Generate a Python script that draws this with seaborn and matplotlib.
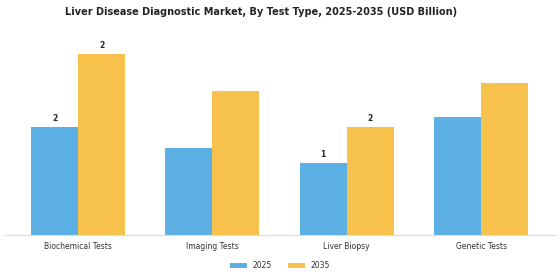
import matplotlib
matplotlib.use("Agg")
import matplotlib.pyplot as plt
import seaborn as sns
import pandas as pd

categories = ["Biochemical Tests", "Imaging Tests", "Liver Biopsy", "Genetic Tests"]
years = ["2025", "2035"]
values_2025 = [1.5, 1.2, 1.0, 1.64]
values_2035 = [2.5, 2.0, 1.5, 2.1]
labeled_categories = ["Biochemical Tests", "Liver Biopsy"]

df = pd.DataFrame({
    "Test Type": categories * 2,
    "Year": [years[0]] * len(categories) + [years[1]] * len(categories),
    "Value": values_2025 + values_2035,
})

sns.set_theme(style="white")
plt.rcParams['font.family'] = ['DejaVu Sans']

fig = plt.figure(figsize=(5.6, 2.8), dpi=100)
ax = fig.add_axes([5/560, 45/280, 550/560, 195/280])

palette = {"2025": "#5DB0E4", "2035": "#F7C24B"}
sns.barplot(data=df, x="Test Type", y="Value", hue="Year", order=categories,
            hue_order=years, palette=palette, width=0.7, gap=0, ax=ax,
            saturation=1, legend=True, linewidth=0, edgecolor="none")

for container, yr in zip(ax.containers, years):
    labels = []
    for cat, bar in zip(categories, container):
        if cat in labeled_categories:
            labels.append(f"{bar.get_height():.0f}")
        else:
            labels.append("")
    ax.bar_label(container, labels=labels, fontsize=5.5, fontweight="bold", padding=3)

ax.set_xlim(-0.544, 3.55)
ax.set_ylim(0, 2.7)
ax.set_xlabel("")
ax.set_ylabel("")
ax.set_yticks([])
for s in ["top", "right", "left"]:
    ax.spines[s].set_visible(False)
ax.spines["bottom"].set_color("#dddddd")
ax.spines["bottom"].set_linewidth(0.8)
ax.tick_params(axis="x", labelsize=5.5, length=3, width=0.6, color="#cccccc", pad=2, labelcolor="#333333")

leg = ax.legend(loc="upper center", bbox_to_anchor=(0.5, -0.1), ncol=2, frameon=False,
                fontsize=5.5, handlelength=2.2, handleheight=0.7, columnspacing=2.2,
                handletextpad=0.7)
for t in leg.get_texts():
    t.set_color("#333333")

fig.suptitle("Liver Disease Diagnostic Market, By Test Type, 2025-2035 (USD Billion)",
             fontsize=7, fontweight="bold", x=0.466, y=0.975, color="#222222")

fig.savefig("out.png", dpi=100)
